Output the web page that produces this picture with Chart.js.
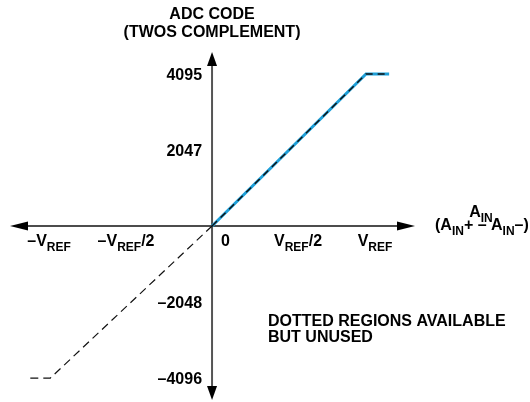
<!DOCTYPE html>
<html>
<head>
<meta charset="utf-8">
<script src="https://cdn.jsdelivr.net/npm/chart.js@4/dist/chart.umd.min.js"></script>
<style>
  html, body { margin: 0; padding: 0; background: #fff; }
  #chart { display: block; }
</style>
</head>
<body>
<canvas id="chart" width="530" height="402"></canvas>
<script>
// transfer function, x in units of VREF, y in codes
const codeX = [0, 1, 1.15];
const codeY = [0, 4095, 4095];
const unusedX = [0, -1.05, -1.19];
const unusedY = [0, -4096, -4096];

const yTickValues = [4095, 2047, -2048, -4096];
const yTickLabels = ['4095', '2047', '\u20132048', '\u20134096'];
const xTickValues = [-1, -0.5, 0, 0.5, 1];
const xTickLabels = ['\u2013V_REF', '\u2013V_REF/2', '0', 'V_REF/2', 'V_REF'];

const titleLines = ['ADC CODE', '(TWOS COMPLEMENT)'];
const xAxisTitle = ['A_IN', '(A_IN+ \u2013 A_IN\u2013)'];
const noteLines = ['DOTTED REGIONS AVAILABLE', 'BUT UNUSED'];

const FONT = 'bold 16px "Liberation Sans", Arial, sans-serif';
const SUBFONT = 'bold 12px "Liberation Sans", Arial, sans-serif';

function toPoints(xs, ys) {
    return xs.map((x, i) => ({ x: x, y: ys[i] }));
}

// split "V_REF/2" into runs, subscript = capitals after "_"
function parseRuns(s) {
    const runs = [];
    const re = /_([A-Z]+)/g;
    let last = 0, m;
    while ((m = re.exec(s)) !== null) {
        if (m.index > last) runs.push({ t: s.slice(last, m.index), sub: false });
        runs.push({ t: m[1], sub: true });
        last = re.lastIndex;
    }
    if (last < s.length) runs.push({ t: s.slice(last), sub: false });
    return runs;
}

function drawRich(ctx, s, x, y, align) {
    const runs = parseRuns(s);
    let w = 0;
    runs.forEach(r => {
        ctx.font = r.sub ? SUBFONT : FONT;
        r.w = ctx.measureText(r.t).width;
        w += r.w;
    });
    let cx = align === 'center' ? x - w / 2 : align === 'right' ? x - w : x;
    ctx.textAlign = 'left';
    ctx.textBaseline = 'alphabetic';
    runs.forEach(r => {
        ctx.font = r.sub ? SUBFONT : FONT;
        ctx.fillText(r.t, cx, r.sub ? y + 5 : y);
        cx += r.w;
    });
}

function arrow(ctx, tipX, tipY, dx, dy, len, half) {
    // dx,dy unit direction of the arrow
    const bx = tipX - dx * len, by = tipY - dy * len;
    ctx.beginPath();
    ctx.moveTo(tipX, tipY);
    ctx.lineTo(bx - dy * half, by + dx * half);
    ctx.lineTo(bx + dy * half, by - dx * half);
    ctx.closePath();
    ctx.fill();
}

const axesPlugin = {
    id: 'axes',
    beforeDatasetsDraw(chart) {
        const ctx = chart.ctx;
        const a = chart.chartArea;
        const x0 = chart.scales.x.getPixelForValue(0);
        const y0 = chart.scales.y.getPixelForValue(0);
        ctx.save();
        // vertical axis
        ctx.strokeStyle = '#555';
        ctx.fillStyle = '#000';
        ctx.lineWidth = 2;
        ctx.beginPath();
        ctx.moveTo(x0, a.top + 8);
        ctx.lineTo(x0, a.bottom - 8);
        ctx.stroke();
        arrow(ctx, x0, a.top, 0, -1, 14, 5);
        arrow(ctx, x0, a.bottom, 0, 1, 14, 5);
        // horizontal axis
        ctx.strokeStyle = '#111';
        ctx.lineWidth = 1.5;
        ctx.beginPath();
        ctx.moveTo(a.left + 8, y0);
        ctx.lineTo(a.right - 8, y0);
        ctx.stroke();
        arrow(ctx, a.left, y0, -1, 0, 18, 4.5);
        arrow(ctx, a.right, y0, 1, 0, 18, 4.5);
        ctx.restore();
    },
    afterDraw(chart) {
        const ctx = chart.ctx;
        const sx = chart.scales.x, sy = chart.scales.y;
        const x0 = sx.getPixelForValue(0);
        const y0 = sy.getPixelForValue(0);
        ctx.save();
        ctx.fillStyle = '#000';

        // title over the vertical axis
        drawRich(ctx, titleLines[0], x0, 19, 'center');
        drawRich(ctx, titleLines[1], x0, 37, 'center');

        // y tick labels
        yTickValues.forEach((v, i) => {
            drawRich(ctx, yTickLabels[i], x0 - 10, sy.getPixelForValue(v) + 6, 'right');
        });

        // x tick labels, nudged away from the origin
        xTickValues.forEach((v, i) => {
            const px = sx.getPixelForValue(v);
            if (v === 0) {
                drawRich(ctx, xTickLabels[i], px + 9, y0 + 20, 'left');
            } else {
                drawRich(ctx, xTickLabels[i], px + Math.sign(v) * 9, y0 + 20, 'center');
            }
        });

        // x axis title
        drawRich(ctx, xAxisTitle[0], 481, 217, 'center');
        drawRich(ctx, xAxisTitle[1], 435, 230, 'left');

        // note
        drawRich(ctx, noteLines[0], 268, 326, 'left');
        drawRich(ctx, noteLines[1], 268, 342, 'left');
        ctx.restore();
    }
};

const ctx = document.getElementById('chart').getContext('2d');

const chart = new Chart(ctx, {
    type: 'line',
    data: {
        datasets: [
            {
                label: 'Code',
                data: toPoints(codeX, codeY),
                borderColor: '#1d9fd8',
                borderWidth: 3,
                pointRadius: 0,
                tension: 0,
                order: 2,
            },
            {
                label: 'Code dashes',
                data: toPoints(codeX, codeY),
                borderColor: '#111',
                borderWidth: 1.4,
                borderDash: [7, 5],
                pointRadius: 0,
                tension: 0,
                order: 1,
            },
            {
                label: 'Unused',
                data: toPoints(unusedX, unusedY),
                borderColor: '#111',
                borderWidth: 1.2,
                borderDash: [8, 5],
                pointRadius: 0,
                tension: 0,
                order: 1,
            },
        ],
    },
    options: {
        responsive: false,
        animation: false,
        layout: {
            padding: { left: 10, right: 115, top: 52, bottom: 2 },
        },
        plugins: {
            legend: { display: false },
            tooltip: { enabled: false },
        },
        scales: {
            x: { type: 'linear', display: false, min: -1.312, max: 1.318 },
            y: { type: 'linear', display: false, min: -4687, max: 4688 },
        },
    },
    plugins: [axesPlugin],
});
</script>
</body>
</html>
